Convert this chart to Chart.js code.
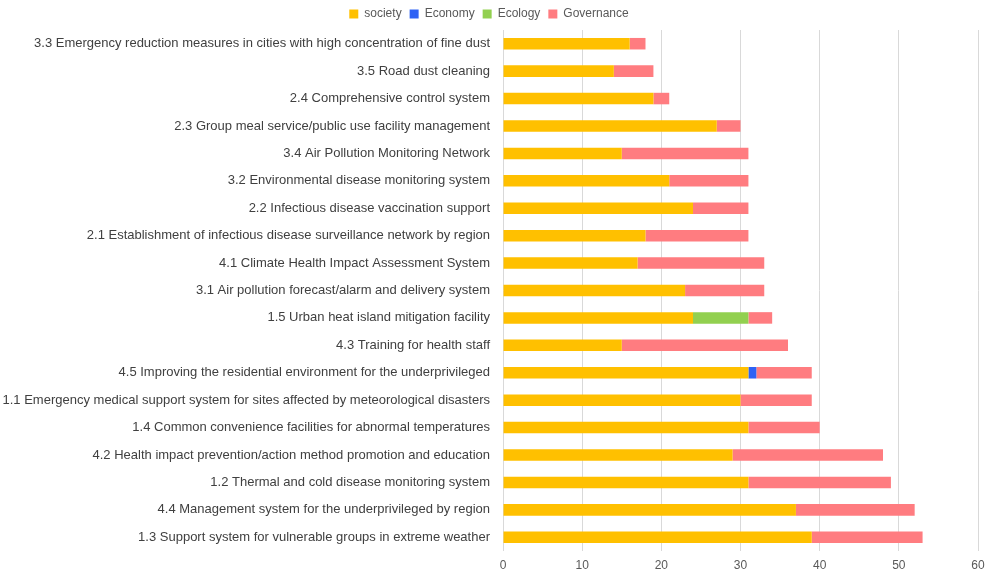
<!DOCTYPE html>
<html>
<head>
<meta charset="utf-8">
<script src="https://cdn.jsdelivr.net/npm/chart.js@4"></script>
<style>
  html, body { margin: 0; padding: 0; background: #fff; }
  #wrap { width: 997px; height: 578px; position: relative; }
</style>
</head>
<body>
<div id="wrap"><canvas id="measureChart"></canvas></div>
<script>
// Categories (top to bottom)
const categories = [
  '3.3 Emergency reduction measures in cities with high concentration of fine dust',
  '3.5 Road dust cleaning',
  '2.4 Comprehensive control system',
  '2.3 Group meal service/public use facility management',
  '3.4 Air Pollution Monitoring Network',
  '3.2 Environmental disease monitoring system',
  '2.2 Infectious disease vaccination support',
  '2.1 Establishment of infectious disease surveillance network by region',
  '4.1 Climate Health Impact Assessment System',
  '3.1 Air pollution forecast/alarm and delivery system',
  '1.5 Urban heat island mitigation facility',
  '4.3 Training for health staff',
  '4.5 Improving the residential environment for the underprivileged',
  '1.1 Emergency medical support system for sites affected by meteorological disasters',
  '1.4 Common convenience facilities for abnormal temperatures',
  '4.2 Health impact prevention/action method promotion and education',
  '1.2 Thermal and cold disease monitoring system',
  '4.4 Management system for the underprivileged by region',
  '1.3 Support system for vulnerable groups in extreme weather'
];

const societyValues    = [16, 14, 19, 27, 15, 21, 24, 18, 17, 23, 24, 15, 31, 30, 31, 29, 31, 37, 39];
const economyValues    = [0, 0, 0, 0, 0, 0, 0, 0, 0, 0, 0, 0, 1, 0, 0, 0, 0, 0, 0];
const ecologyValues    = [0, 0, 0, 0, 0, 0, 0, 0, 0, 0, 7, 0, 0, 0, 0, 0, 0, 0, 0];
const governanceValues = [2, 5, 2, 3, 16, 10, 7, 13, 16, 10, 3, 21, 7, 9, 9, 19, 18, 15, 14];

const xTicks = [0, 10, 20, 30, 40, 50, 60];

const ctx = document.getElementById('measureChart');
new Chart(ctx, {
  type: 'bar',
  data: {
    labels: categories,
    datasets: [
      { label: 'society', data: societyValues, backgroundColor: '#FFC000' },
      { label: 'Economy', data: economyValues, backgroundColor: '#2E62F5' },
      { label: 'Ecology', data: ecologyValues, backgroundColor: '#92D050' },
      { label: 'Governance', data: governanceValues, backgroundColor: '#FF7C80' }
    ]
  },
  options: {
    indexAxis: 'y',
    responsive: true,
    maintainAspectRatio: false,
    animation: false,
    barPercentage: 0.42,
    categoryPercentage: 1,
    layout: {
      padding: { top: 0, bottom: 0, left: 0, right: 19 }
    },
    scales: {
      x: {
        stacked: true,
        min: xTicks[0],
        max: xTicks[xTicks.length - 1],
        afterBuildTicks: function(scale) {
          scale.ticks = xTicks.map(v => ({ value: v }));
        },
        afterFit: function(scale) {
          scale.height = 27;
        },
        border: { display: false },
        grid: {
          color: '#d9d9d9',
          lineWidth: 1,
          drawTicks: false
        },
        ticks: {
          color: '#595959',
          font: { family: 'Liberation Sans', size: 12 },
          padding: 7
        }
      },
      y: {
        stacked: true,
        afterFit: function(scale) {
          scale.width = 503;
        },
        border: { display: false },
        grid: { display: false, drawTicks: false },
        ticks: {
          color: '#404040',
          font: { family: 'Liberation Sans', size: 13 },
          padding: 13,
          autoSkip: false
        }
      }
    },
    plugins: {
      legend: {
        position: 'top',
        labels: {
          boxWidth: 9,
          boxHeight: 9,
          padding: 8,
          color: '#595959',
          font: { family: 'Liberation Sans', size: 12 }
        }
      },
      tooltip: { enabled: false }
    }
  }
});
</script>
</body>
</html>
